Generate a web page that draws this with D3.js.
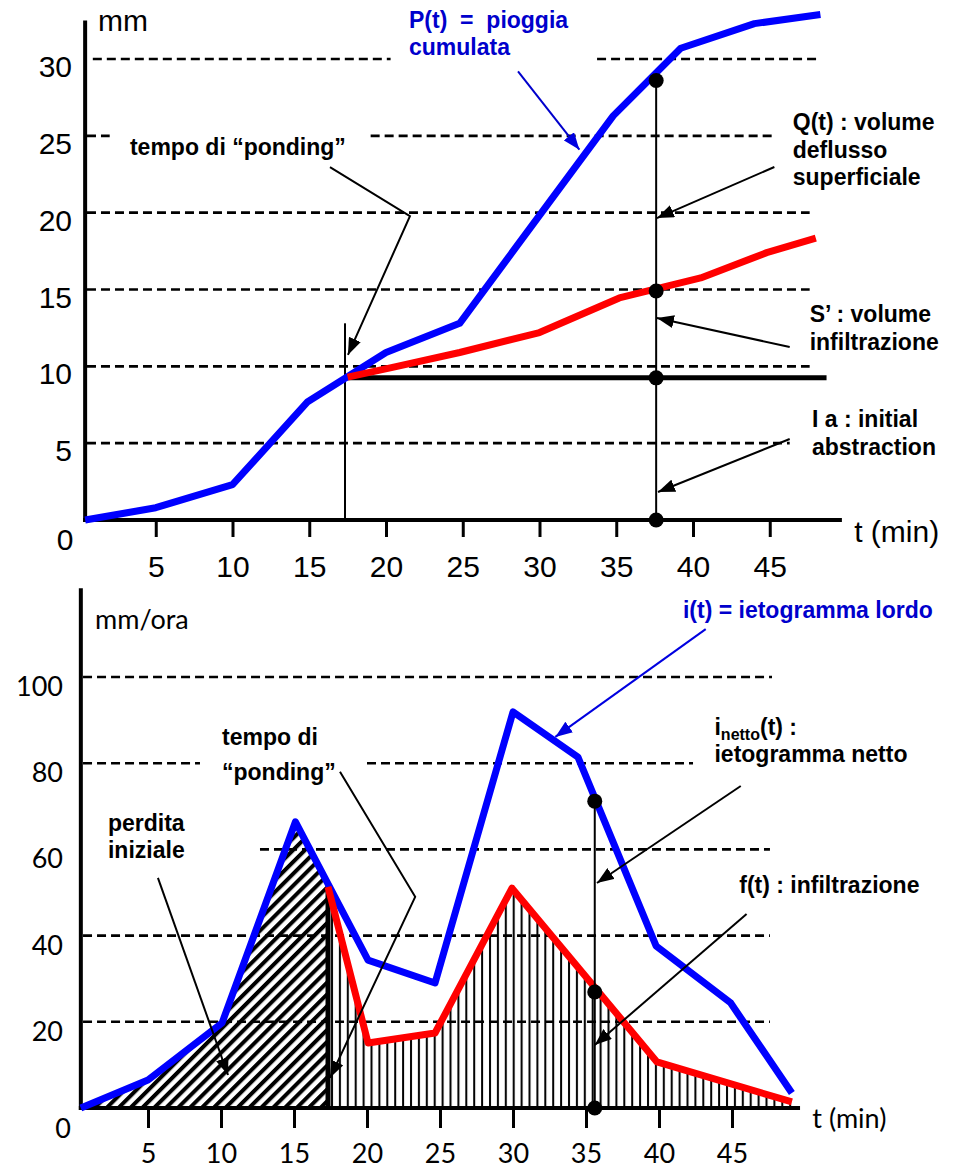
<!DOCTYPE html>
<html>
<head>
<meta charset="utf-8">
<title>Pioggia cumulata e ietogramma</title>
<style>
  body { margin: 0; background: #fff; }
  .num { font-family: "Liberation Sans", Arial, sans-serif; font-size: 30px; }
  .num2 { font-family: Lato, sans-serif; font-size: 27px; }
  .note { font-family: "Liberation Sans", Arial, sans-serif; font-weight: bold; font-size: 23px; }
</style>
</head>
<body>
<script src="https://cdn.jsdelivr.net/npm/d3@7/dist/d3.min.js"></script>
<script>
// ---- top chart: cumulated rain P(t), infiltration S'(t), initial abstraction Ia (mm)
var pTime = [0.4, 5, 10, 14.9, 20, 24.8, 34.8, 39.2, 44, 48.3];
var pValue = [0, 0.8, 2.3, 7.7, 10.9, 12.8, 26.3, 30.7, 32.3, 32.9];
var sTime = [17.5, 20.5, 24.8, 30, 35.2, 40.5, 44.8, 48];
var sValue = [9.3, 9.95, 10.9, 12.2, 14.45, 15.75, 17.4, 18.35];
var iaValue = 9.25;
var iaEnd = 48.7;
var tPondingTop = 17.33;
var pondingTopHeight = 12.8;
var tMarkTop = 37.6;
var dotsTop = [28.6, 14.9, 9.25, 0];
var topYTicks = [5, 10, 15, 20, 25, 30];
var xTicks = [5, 10, 15, 20, 25, 30, 35, 40, 45];

// ---- bottom chart: gross hyetograph i(t), infiltration f(t) (mm/ora)
var iTime = [0.4, 5, 10.07, 15.1, 20.07, 24.66, 30, 34.45, 39.8, 44.9, 49.1];
var iValue = [0, 6.5, 19.7, 66.4, 34.3, 29.0, 91.9, 81.4, 37.6, 24.4, 3.5];
var fTime = [17.33, 20.07, 24.66, 29.93, 39.86, 49.1];
var fValue = [51.3, 15.1, 17.4, 51.0, 10.7, 1.4];
var tPondingBot = 17.33;
var tMarkBot = 35.6;
var dotsBot = [71.2, 26.9, 0];
var botYTicks = [20, 40, 60, 80, 100];

var W = 954, H = 1168;
var svg = d3.select("body").append("svg")
  .attr("width", W)
  .attr("height", H)
  .style("display", "block");

svg.append("rect").attr("width", W).attr("height", H).attr("fill", "#fff");

var defs = svg.append("defs");

function arrowMarker(id, color) {
  defs.append("marker")
    .attr("id", id)
    .attr("viewBox", "0 0 10 10")
    .attr("preserveAspectRatio", "none")
    .attr("refX", 10).attr("refY", 5)
    .attr("markerUnits", "userSpaceOnUse")
    .attr("markerWidth", 17).attr("markerHeight", 13)
    .attr("orient", "auto")
    .append("path")
    .attr("d", "M0,0L10,5L0,10Z")
    .attr("fill", color);
}
arrowMarker("arrK", "#000");
arrowMarker("arrB", "#0000e0");

// scales
var xT = d3.scaleLinear().domain([0, 50]).range([79, 79 + 15.35 * 50]);
var yT = d3.scaleLinear().domain([0, 30]).range([520, 59]);
var xB = d3.scaleLinear().domain([0, 50]).range([75, 75 + 14.6 * 50]);
var yB = d3.scaleLinear().domain([0, 100]).range([1108, 677]);

// hatch patterns
defs.append("pattern")
  .attr("id", "diag")
  .attr("patternUnits", "userSpaceOnUse")
  .attr("width", 8.4).attr("height", 8.4)
  .attr("patternTransform", "rotate(45)")
  .append("line")
  .attr("x1", 2).attr("y1", 0).attr("x2", 2).attr("y2", 8.4)
  .attr("stroke", "#000").attr("stroke-width", 4);

defs.append("pattern")
  .attr("id", "vert")
  .attr("patternUnits", "userSpaceOnUse")
  .attr("x", xB(tPondingBot))
  .attr("width", 7.9).attr("height", 10)
  .append("line")
  .attr("x1", 4).attr("y1", 0).attr("x2", 4).attr("y2", 10)
  .attr("stroke", "#000").attr("stroke-width", 2);

function dashes(g, grid, xs, ys) {
  grid.forEach(function(gl) {
    gl.seg.forEach(function(s) {
      g.append("line")
        .attr("x1", xs(s[0])).attr("x2", xs(s[1]))
        .attr("y1", ys(gl.v)).attr("y2", ys(gl.v))
        .attr("stroke", "#000")
        .attr("stroke-width", 2.6)
        .attr("stroke-dasharray", "9,5");
    });
  });
}

function arrow(g, pts, xs, ys, color, marker, width) {
  g.append("path")
    .attr("d", d3.line().x(function(d) { return xs(d[0]); }).y(function(d) { return ys(d[1]); })(pts))
    .attr("fill", "none")
    .attr("stroke", color)
    .attr("stroke-width", width)
    .attr("marker-end", "url(#" + marker + ")");
}

function label(g, lines, t, v, xs, ys, color, step) {
  var txt = g.append("text")
    .attr("class", "note")
    .attr("fill", color)
    .style("white-space", "pre");
  lines.forEach(function(s, i) {
    txt.append("tspan")
      .attr("x", xs(t))
      .attr("y", ys(v) + i * step)
      .text(s);
  });
  return txt;
}

// ================= TOP CHART =================
var gTop = svg.append("g");

var topGrid = [
  {v: 30, seg: [[0.9, 20.3], [33.75, 48.3]]},
  {v: 25, seg: [[0.52, 2.0], [19, 45.2]]},
  {v: 20, seg: [[0.52, 47.6]]},
  {v: 15, seg: [[0.52, 47.6]]},
  {v: 10, seg: [[0.52, 47.6]]},
  {v: 5, seg: [[0.52, 46.3]]}
];
dashes(gTop, topGrid, xT, yT);

// axes lines
gTop.append("line")
  .attr("x1", xT(0.4)).attr("x2", xT(0.4))
  .attr("y1", yT(32.5)).attr("y2", yT(0) + 2)
  .attr("stroke", "#000").attr("stroke-width", 4);
gTop.append("line")
  .attr("x1", xT(0.4) - 2).attr("x2", xT(49.7))
  .attr("y1", yT(0)).attr("y2", yT(0))
  .attr("stroke", "#000").attr("stroke-width", 4);

var xAxisTop = gTop.append("g")
  .attr("transform", "translate(0," + yT(0) + ")")
  .call(d3.axisBottom(xT).tickValues(xTicks).tickSize(17).tickPadding(19).tickFormat(d3.format("d")));
xAxisTop.select(".domain").remove();
xAxisTop.selectAll(".tick line").attr("stroke", "#000").attr("stroke-width", 3);
xAxisTop.selectAll(".tick text")
  .attr("fill", "#000")
  .style("font-size", "30px").style("font-family", "'Liberation Sans', Arial, sans-serif");

gTop.selectAll(".ylab")
  .data(topYTicks)
  .join("text")
  .attr("class", "num")
  .attr("text-anchor", "end")
  .attr("x", 72)
  .attr("y", function(d) { return yT(d) + 18; })
  .text(function(d) { return d; });

gTop.append("text").attr("class", "num").attr("text-anchor", "middle")
  .attr("x", 65).attr("y", yT(0) + 30).text("0");
gTop.append("text").attr("class", "num")
  .attr("x", xT(1.24)).attr("y", yT(32.5) + 10).text("mm");
gTop.append("text").attr("class", "num")
  .attr("x", xT(50.5)).attr("y", yT(0) + 22).text("t (min)");

// ponding vertical
gTop.append("line")
  .attr("x1", xT(tPondingTop)).attr("x2", xT(tPondingTop))
  .attr("y1", yT(pondingTopHeight)).attr("y2", yT(0))
  .attr("stroke", "#000").attr("stroke-width", 2);

// Ia line
gTop.append("line")
  .attr("x1", xT(tPondingTop)).attr("x2", xT(iaEnd))
  .attr("y1", yT(iaValue)).attr("y2", yT(iaValue))
  .attr("stroke", "#000").attr("stroke-width", 5);

var lineT = d3.line().x(function(d) { return xT(d[0]); }).y(function(d) { return yT(d[1]); });

gTop.append("path")
  .attr("d", lineT(d3.zip(pTime, pValue)))
  .attr("fill", "none").attr("stroke", "#0000ff")
  .attr("stroke-width", 7).attr("stroke-linejoin", "round");
gTop.append("path")
  .attr("d", lineT(d3.zip(sTime, sValue)))
  .attr("fill", "none").attr("stroke", "#ff0000")
  .attr("stroke-width", 7).attr("stroke-linejoin", "round");

// marker line + dots
gTop.append("line")
  .attr("x1", xT(tMarkTop)).attr("x2", xT(tMarkTop))
  .attr("y1", yT(dotsTop[0])).attr("y2", yT(0))
  .attr("stroke", "#000").attr("stroke-width", 2);
gTop.selectAll(".dot")
  .data(dotsTop)
  .join("circle")
  .attr("cx", xT(tMarkTop))
  .attr("cy", function(d) { return yT(d); })
  .attr("r", 7.5)
  .attr("fill", "#000");

// annotations
label(gTop, ["P(t)  =  pioggia", "cumulata"], 21.5, 32.0, xT, yT, "#0000cc", 27);
arrow(gTop, [[28.6, 29.2], [32.6, 24.1]], xT, yT, "#0000cc", "arrB", 2);

label(gTop, ["tempo di \u201cponding\u201d"], 3.32, 23.75, xT, yT, "#000", 27);
arrow(gTop, [[16.35, 22.97], [21.56, 19.78], [17.52, 10.74]], xT, yT, "#000", "arrK", 2);

label(gTop, ["Q(t) : volume", "deflusso", "superficiale"], 46.5, 25.37, xT, yT, "#000", 27.5);
arrow(gTop, [[45.3, 22.97], [37.65, 19.65]], xT, yT, "#000", "arrK", 2);

label(gTop, ["S\u2019 : volume", "infiltrazione"], 47.6, 12.88, xT, yT, "#000", 28);
arrow(gTop, [[46.3, 11.26], [37.65, 13.14]], xT, yT, "#000", "arrK", 2);

label(gTop, ["I a : initial", "abstraction"], 47.75, 6.05, xT, yT, "#000", 28);
arrow(gTop, [[46.3, 5.27], [37.72, 1.82]], xT, yT, "#000", "arrK", 2);

// ================= BOTTOM CHART =================
var gBot = svg.append("g");

var iAt = d3.scaleLinear().domain(iTime).range(iValue);

// hatched areas
var lossPts = d3.zip(iTime, iValue).filter(function(d) { return d[0] < tPondingBot; });
lossPts.push([tPondingBot, iAt(tPondingBot)]);
var areaB = d3.area()
  .x(function(d) { return xB(d[0]); })
  .y0(yB(0))
  .y1(function(d) { return yB(d[1]); });
gBot.append("path").attr("d", areaB(lossPts)).attr("fill", "url(#diag)");
gBot.append("path").attr("d", areaB(d3.zip(fTime, fValue))).attr("fill", "url(#vert)");

var botGrid = [
  {v: 100, seg: [[0.55, 47.74]]},
  {v: 80, seg: [[0.55, 8.56], [20, 42.33]]},
  {v: 60, seg: [[12.67, 47.6]]},
  {v: 40, seg: [[0.55, 47.6]]},
  {v: 20, seg: [[0.55, 47.6]]}
];
dashes(gBot, botGrid, xB, yB);

gBot.append("line")
  .attr("x1", xB(0.4)).attr("x2", xB(0.4))
  .attr("y1", yB(120.6)).attr("y2", yB(0) + 2)
  .attr("stroke", "#000").attr("stroke-width", 4);
gBot.append("line")
  .attr("x1", xB(0.4) - 2).attr("x2", xB(49.66))
  .attr("y1", yB(0)).attr("y2", yB(0))
  .attr("stroke", "#000").attr("stroke-width", 4);

var xAxisBot = gBot.append("g")
  .attr("transform", "translate(0," + yB(0) + ")")
  .call(d3.axisBottom(xB).tickValues(xTicks).tickSize(20).tickPadding(16).tickFormat(d3.format("d")));
xAxisBot.select(".domain").remove();
xAxisBot.selectAll(".tick line").attr("stroke", "#000").attr("stroke-width", 3);
xAxisBot.selectAll(".tick text")
  .attr("fill", "#000")
  .style("font-size", "27px").style("font-family", "Lato, sans-serif");

gBot.selectAll(".ylab")
  .data(botYTicks)
  .join("text")
  .attr("class", "num2")
  .attr("text-anchor", "end")
  .attr("x", 63)
  .attr("y", function(d) { return yB(d) + 19; })
  .text(function(d) { return d; });
gBot.append("text").attr("class", "num2").attr("text-anchor", "middle")
  .attr("x", 63).attr("y", yB(0) + 30).text("0");
gBot.append("text").attr("class", "num2")
  .attr("x", xB(1.37)).attr("y", yB(111.1)).text("mm/ora");
gBot.append("text").attr("class", "num2")
  .attr("x", xB(50.5)).attr("y", yB(-4.6)).text("t (min)");

// thick ponding line
gBot.append("line")
  .attr("x1", xB(tPondingBot)).attr("x2", xB(tPondingBot))
  .attr("y1", yB(fValue[0])).attr("y2", yB(0))
  .attr("stroke", "#000").attr("stroke-width", 5);

var lineB = d3.line().x(function(d) { return xB(d[0]); }).y(function(d) { return yB(d[1]); });
gBot.append("path")
  .attr("d", lineB(d3.zip(iTime, iValue)))
  .attr("fill", "none").attr("stroke", "#0000ff")
  .attr("stroke-width", 7).attr("stroke-linejoin", "round");
gBot.append("path")
  .attr("d", lineB(d3.zip(fTime, fValue)))
  .attr("fill", "none").attr("stroke", "#ff0000")
  .attr("stroke-width", 7).attr("stroke-linejoin", "round");

gBot.append("line")
  .attr("x1", xB(tMarkBot)).attr("x2", xB(tMarkBot))
  .attr("y1", yB(dotsBot[0])).attr("y2", yB(0))
  .attr("stroke", "#000").attr("stroke-width", 2);
gBot.selectAll(".dot")
  .data(dotsBot)
  .join("circle")
  .attr("cx", xB(tMarkBot))
  .attr("cy", function(d) { return yB(d); })
  .attr("r", 7.5)
  .attr("fill", "#000");

// annotations
label(gBot, ["i(t) = ietogramma lordo"], 41.64, 113.7, xB, yB, "#0000cc", 27);
arrow(gBot, [[43.2, 111.1], [32.9, 86.1]], xB, yB, "#0000e0", "arrB", 2);

var netto = gBot.append("text").attr("class", "note")
  .attr("x", xB(43.8)).attr("y", yB(86.5));
netto.append("tspan").text("i");
netto.append("tspan").attr("dy", 5).style("font-size", "16px").text("netto");
netto.append("tspan").attr("dy", -5).text("(t) :");
label(gBot, ["ietogramma netto"], 43.8, 80.3, xB, yB, "#000", 27);
arrow(gBot, [[45.6, 74.7], [35.75, 52.2]], xB, yB, "#000", "arrK", 2);

label(gBot, ["f(t) : infiltrazione"], 45.5, 49.9, xB, yB, "#000", 27);
arrow(gBot, [[46.0, 45.0], [35.6, 14.6]], xB, yB, "#000", "arrK", 2);

label(gBot, ["tempo di", "\u201cponding\u201d"], 10.07, 84.2, xB, yB, "#000", 35);
arrow(gBot, [[18.15, 78.0], [23.3, 49.0], [17.47, 7.0]], xB, yB, "#000", "arrK", 2);

label(gBot, ["perdita", "iniziale"], 2.26, 64.3, xB, yB, "#000", 27);
arrow(gBot, [[5.68, 53.4], [10.48, 7.66]], xB, yB, "#000", "arrK", 2);
</script>
</body>
</html>
